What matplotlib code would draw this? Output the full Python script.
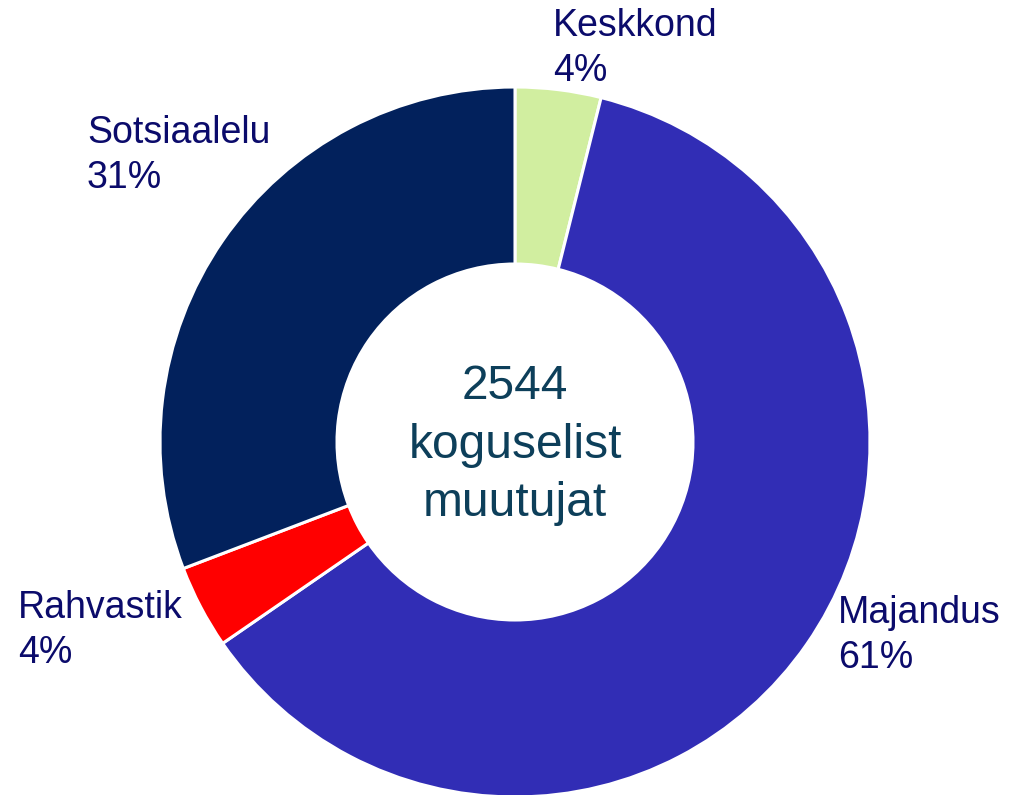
import matplotlib.pyplot as plt

plt.rcParams["font.family"] = ["Liberation Sans", "DejaVu Sans"]

# --- Data ---
categories = ["Keskkond", "Majandus", "Rahvastik", "Sotsiaalelu"]
shares = [3.9, 61.5, 3.8, 30.8]
pct_labels = ["4%", "61%", "4%", "31%"]
total = 2544

colors = ["#d1eea0", "#312db5", "#ff0000", "#02215c"]
label_color = "#0b0b6b"
center_color = "#0d3f5a"

# label anchor (left, top) in pixel coordinates of the figure
label_pos = [(553, 787), (838, 200), (18, 205), (87, 680)]

fig = plt.figure(figsize=(10.16, 7.95), dpi=100)
ax = fig.add_axes([0, 0, 1, 1])

ax.pie(
    shares,
    colors=colors,
    startangle=90,
    counterclock=False,
    center=(515, 353),
    radius=355,
    wedgeprops=dict(width=177, edgecolor="white", linewidth=2.2),
    frame=True,
)
ax.set_xlim(0, 1016)
ax.set_ylim(0, 795)
ax.set_aspect("equal")
ax.axis("off")

for name, pct, (x, y) in zip(categories, pct_labels, label_pos):
    ax.text(x, y, f"{name}\n{pct}", ha="left", va="top", fontsize=27,
            color=label_color, linespacing=1.32)

ax.text(515, 350, f"{total}\nkoguselist\nmuutujat", ha="center", va="center",
        fontsize=34.5, color=center_color, linespacing=1.38)

fig.savefig("out.png", dpi=100)
